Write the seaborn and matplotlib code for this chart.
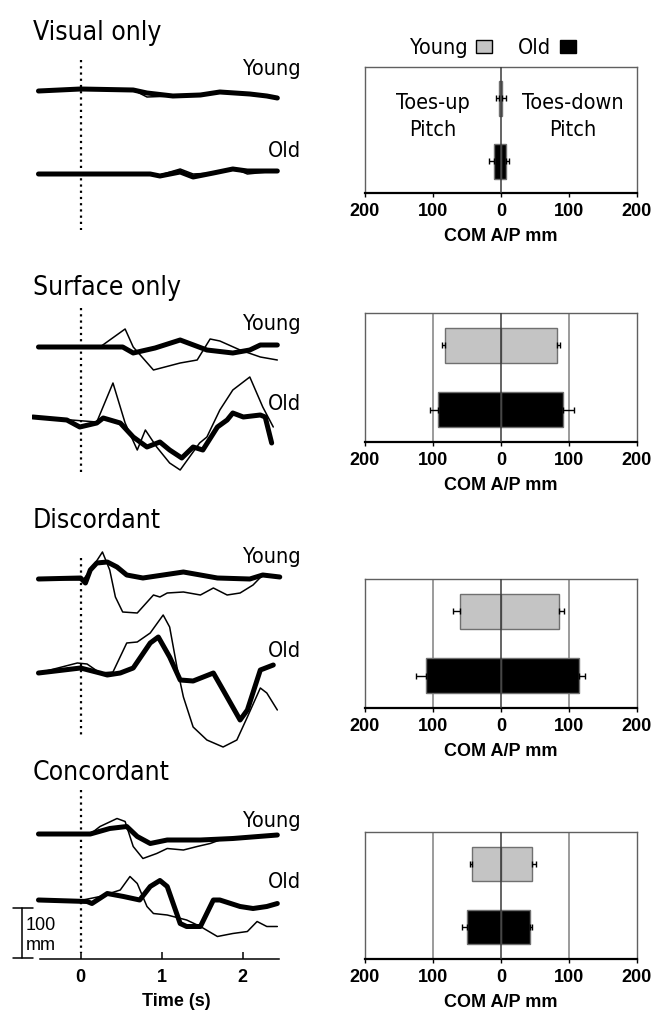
import numpy as np
import pandas as pd
import matplotlib
matplotlib.use("Agg")
import matplotlib.pyplot as plt
from matplotlib import font_manager
from matplotlib.font_manager import FontProperties
from matplotlib.patches import Patch
import seaborn as sns

# ---------------- data ----------------
conditions = ["Visual only", "Surface only", "Discordant", "Concordant"]
groups = ["Young", "Old"]

# peak COM A/P displacement (mm): toes-up (left) and toes-down (right)
young_up = [3, 82, 60, 42]
young_down = [2, 82, 86, 45]
young_up_se = [5, 5, 10, 4]
young_down_se = [6, 5, 7, 6]
old_up = [11, 92, 111, 50]
old_down = [8, 91, 114, 43]
old_up_se = [7, 12, 14, 7]
old_down_se = [4, 16, 10, 2]

bar_ticks = [-200, -100, 0, 100, 200]
bar_ticklabels = ["200", "100", "0", "100", "200"]
time_ticks = [0, 1, 2]

# COM traces (time s, displacement mm)
vis_young_thick_t = [-0.52, 0.0, 0.65, 0.82, 1.14, 1.48, 1.72, 2.09, 2.30, 2.43]
vis_young_thick_v = [0, 4, 2, -4, -10, -8, -2, -6, -10, -14]
vis_young_thin_t = [-0.52, 0.0, 0.65, 0.82, 1.14, 1.48, 1.72, 2.09, 2.30, 2.43]
vis_young_thin_v = [0, 4, 2, -12, -10, -8, -2, -6, -10, -14]
vis_old_thick_t = [-0.52, 0.0, 0.86, 0.98, 1.23, 1.39, 1.64, 1.88, 2.06, 2.43]
vis_old_thick_v = [0, 0, 0, -4, 4, -6, 2, 10, 6, 6]
vis_old_thin_t = [-0.52, 0.0, 0.86, 0.98, 1.23, 1.39, 1.64, 1.88, 2.06, 2.43]
vis_old_thin_v = [0, 0, 0, -2, 10, 0, 2, 12, 0, 6]

surf_young_thick_t = [-0.52, 0.52, 0.65, 0.92, 1.23, 1.56, 1.88, 2.09, 2.22, 2.43]
surf_young_thick_v = [0, 0, -12, -2, 14, -6, -12, -6, 4, 4]
surf_young_thin_t = [-0.52, 0.24, 0.55, 0.65, 0.90, 1.23, 1.44, 1.60, 1.72, 1.97, 2.22, 2.43]
surf_young_thin_v = [0, 0, 36, 0, -46, -32, -26, 16, 12, -6, -20, -26]
surf_old_thick_t = [-0.59, -0.17, -0.01, 0.20, 0.28, 0.49, 0.65, 0.82, 0.98, 1.10,
                    1.25, 1.39, 1.51, 1.69, 1.81, 1.88, 2.01, 2.22, 2.28, 2.36]
surf_old_thick_v = [6, 0, -14, -6, 4, -6, -34, -54, -44, -60,
                    -76, -54, -60, -14, 0, 14, 6, 10, 6, -46]
surf_old_thin_t = [-0.59, 0.20, 0.40, 0.55, 0.70, 0.80, 0.94, 1.10, 1.23, 1.47,
                   1.56, 1.72, 1.88, 2.09, 2.25, 2.38]
surf_old_thin_v = [6, -4, 74, -6, -60, -20, -54, -86, -100, -46,
                   -34, 20, 60, 86, 26, -14]

disc_young_thick_t = [-0.52, 0.0, 0.06, 0.12, 0.20, 0.33, 0.45, 0.57, 0.77, 1.27, 1.69, 2.09, 2.25, 2.46]
disc_young_thick_v = [0, 2, -8, 18, 32, 34, 24, 8, 2, 14, 2, 0, 8, 4]
disc_young_thin_t = [-0.52, 0.03, 0.15, 0.27, 0.36, 0.43, 0.52, 0.70, 0.90, 0.98,
                     1.07, 1.27, 1.48, 1.64, 1.81, 1.97, 2.13, 2.25, 2.30]
disc_young_thin_v = [0, -2, 24, 54, 18, -36, -66, -68, -32, -36,
                     -28, -26, -32, -18, -32, -28, -12, 8, 10]
disc_old_thick_t = [-0.52, 0.0, 0.24, 0.33, 0.49, 0.65, 0.86, 0.96, 1.10, 1.23,
                    1.39, 1.64, 1.76, 1.97, 2.06, 2.22, 2.38]
disc_old_thick_v = [0, 10, 0, -4, 0, 10, 60, 72, 32, -14,
                    -16, 0, -34, -94, -74, 6, 16]
disc_old_thin_t = [-0.52, -0.04, 0.08, 0.24, 0.40, 0.57, 0.70, 0.86, 1.02, 1.10,
                   1.19, 1.27, 1.39, 1.56, 1.76, 1.93, 2.06, 2.22, 2.30, 2.43]
disc_old_thin_v = [0, 20, 18, 0, 2, 60, 62, 80, 116, 92,
                   12, -48, -108, -134, -148, -134, -88, -30, -40, -74]

conc_young_thick_t = [-0.52, 0.12, 0.36, 0.57, 0.70, 0.86, 1.07, 1.48, 1.88, 2.43]
conc_young_thick_v = [0, 0, 11, 15, -5, -19, -12, -12, -9, -2]
conc_young_thin_t = [-0.52, 0.12, 0.24, 0.45, 0.55, 0.65, 0.77, 0.94, 1.07, 1.27,
                     1.44, 1.60, 1.72, 1.88, 2.43]
conc_young_thin_v = [0, 0, 15, 31, 25, -25, -49, -39, -29, -32,
                     -25, -19, -12, -9, -2]
conc_old_thick_t = [-0.52, 0.08, 0.14, 0.33, 0.53, 0.73, 0.86, 0.98, 1.07, 1.23,
                    1.31, 1.48, 1.64, 1.72, 1.97, 2.13, 2.30, 2.43]
conc_old_thick_v = [0, -3, -7, 13, 7, 0, 27, 39, 27, -47,
                    -53, -53, 0, 0, -13, -17, -13, -7]
conc_old_thin_t = [-0.52, 0.03, 0.24, 0.49, 0.61, 0.70, 0.82, 0.90, 1.07, 1.31,
                   1.48, 1.69, 1.88, 2.06, 2.18, 2.30, 2.43]
conc_old_thin_v = [0, 0, 7, 20, 47, 33, -13, -27, -30, -40,
                   -53, -73, -67, -63, -43, -53, -53]

traces = [
    [(vis_young_thin_t, vis_young_thin_v, vis_young_thick_t, vis_young_thick_v),
     (vis_old_thin_t, vis_old_thin_v, vis_old_thick_t, vis_old_thick_v)],
    [(surf_young_thin_t, surf_young_thin_v, surf_young_thick_t, surf_young_thick_v),
     (surf_old_thin_t, surf_old_thin_v, surf_old_thick_t, surf_old_thick_v)],
    [(disc_young_thin_t, disc_young_thin_v, disc_young_thick_t, disc_young_thick_v),
     (disc_old_thin_t, disc_old_thin_v, disc_old_thick_t, disc_old_thick_v)],
    [(conc_young_thin_t, conc_young_thin_v, conc_young_thick_t, conc_young_thick_v),
     (conc_old_thin_t, conc_old_thin_v, conc_old_thick_t, conc_old_thick_v)],
]

# ---------------- style ----------------
sns.set_theme(style="white")
plt.rcParams["font.family"] = ["Liberation Sans", "DejaVu Sans"]
plt.rcParams["text.color"] = "black"
plt.rcParams["axes.labelcolor"] = "black"
plt.rcParams["xtick.color"] = "black"
plt.rcParams["ytick.color"] = "black"


def find_narrow():
    best = None
    for f in font_manager.fontManager.ttflist:
        nm = f.name.lower()
        path = f.fname.lower()
        st = str(f.stretch).lower()
        is_narrow = ("narrow" in nm or "condensed" in nm or "narrow" in path
                     or "condensed" in path or st in ("condensed", "semi-condensed",
                                                      "extra-condensed", "ultra-condensed")
                     or (isinstance(f.stretch, (int, float)) and f.stretch < 500))
        if not is_narrow:
            continue
        if "bold" in path or "italic" in path or "oblique" in path or "light" in path \
                or "black" in path or "medium" in path or "thin" in path:
            continue
        if "mono" in nm or "serif" in nm and "sans" not in nm:
            continue
        if "liberation" in nm or "arial" in nm:
            score = 3
        elif "dejavu" in nm:
            score = 2
        else:
            score = 1
        if best is None or score > best[0]:
            best = (score, f.fname)
    return best[1] if best else None


narrow_path = find_narrow()
if narrow_path:
    def NP(size):
        return FontProperties(fname=narrow_path, size=size)
    title_size, label_size = 19, 15.5
else:
    def NP(size):
        return FontProperties(family="Liberation Sans", size=size)
    title_size, label_size = 17, 14.5

W, H = 669, 1015
fig = plt.figure(figsize=(W / 100, H / 100), dpi=100)
fig.patch.set_facecolor("white")


def fy(px):  # left-column pixel row -> data (mm, 2 mm per pixel)
    return -2.0 * px


def ft(px):  # left-column pixel column -> time (s)
    return (px - 80.5) / 81.0


# ---------------- left column: traces ----------------
axL = fig.add_axes([32 / W, 0, 251 / W, 1])
axL.set_xlim(-0.6, 2.5)
axL.set_ylim(-2030, 0)
axL.patch.set_alpha(0)

base_px = [(91, 174), (347, 420), (579, 673), (834, 900)]
title_px = [40, 295, 528, 780]
young_lbl_px = [75, 330, 563, 827]
old_lbl_px = [157, 410, 657, 888]
dot_px = [(60, 230), (308, 473), (558, 735), (790, 953)]

for i, cond in enumerate(conditions):
    for g in range(2):
        tt, tv, kt, kv = traces[i][g]
        off = fy(base_px[i][g])
        sns.lineplot(x=np.array(tt), y=np.array(tv) + off, ax=axL, color="black",
                     linewidth=1.1, estimator=None, sort=False)
        sns.lineplot(x=np.array(kt), y=np.array(kv) + off, ax=axL, color="black",
                     linewidth=3.6, estimator=None, sort=False,
                     solid_capstyle="round", solid_joinstyle="round")
    axL.plot([0, 0], [fy(dot_px[i][0]), fy(dot_px[i][1])], color="black",
             linewidth=1.6, linestyle=(0, (1, 1.8)))
    axL.text(ft(33), fy(title_px[i]), cond, ha="left", va="baseline",
             fontproperties=NP(title_size), color="black")
    axL.text(ft(301), fy(young_lbl_px[i]), "Young", ha="right", va="baseline",
             fontproperties=NP(label_size), color="black")
    axL.text(ft(301), fy(old_lbl_px[i]), "Old", ha="right", va="baseline",
             fontproperties=NP(label_size), color="black")

for s in ["top", "right", "left"]:
    axL.spines[s].set_visible(False)
axL.spines["bottom"].set_position(("data", fy(959)))
axL.spines["bottom"].set_bounds(-0.5, 2.45)
axL.spines["bottom"].set_color("black")
axL.spines["bottom"].set_linewidth(1.1)
axL.set_yticks([])
axL.set_xticks(time_ticks, [str(v) for v in time_ticks], fontsize=13, fontweight="bold")
axL.tick_params(axis="x", direction="in", length=5, width=1.1, color="black",
                labelcolor="black", pad=7, bottom=True)
axL.set_xlabel("")
axL.set_ylabel("")
axL.text(ft(176), fy(1002), "Time (s)", ha="center", va="center",
         fontsize=13, fontweight="bold", color="black")

# scale bar (100 mm)
xb = ft(22)
axL.plot([xb, xb], [fy(958), fy(958) + 100], color="black", linewidth=1.1, clip_on=False)
axL.plot([ft(13), ft(33)], [fy(958), fy(958)], color="black", linewidth=1.1, clip_on=False)
axL.plot([ft(13), ft(33)], [fy(958) + 100, fy(958) + 100], color="black", linewidth=1.1, clip_on=False)
axL.text(ft(26), fy(925), "100", ha="left", va="center", fontsize=13, color="black")
axL.text(ft(26), fy(946), "mm", ha="left", va="center", fontsize=13, color="black")

# ---------------- right column: bars ----------------
box_px = [(67, 193), (313, 442), (579, 708), (832, 959)]
palette = {"Young": "#c4c4c4", "Old": "#000000"}

for i, cond in enumerate(conditions):
    top, bot = box_px[i]
    ax = fig.add_axes([365 / W, 1 - bot / H, 272 / W, (bot - top) / H])
    df_up = pd.DataFrame({"group": groups, "value": [-young_up[i], -old_up[i]]})
    df_dn = pd.DataFrame({"group": groups, "value": [young_down[i], old_down[i]]})
    for df in (df_up, df_dn):
        sns.barplot(data=df, x="value", y="group", hue="group", palette=palette,
                    orient="h", width=0.54, legend=False, ax=ax,
                    edgecolor="#707070", linewidth=1.0, zorder=2)
    ax.errorbar([-young_up[i], -old_up[i]], [0, 1],
                xerr=[[young_up_se[i], old_up_se[i]], [0, 0]],
                fmt="none", ecolor="black", elinewidth=1.0, capsize=2.2, capthick=1.0, zorder=3)
    ax.errorbar([young_down[i], old_down[i]], [0, 1],
                xerr=[[0, 0], [young_down_se[i], old_down_se[i]]],
                fmt="none", ecolor="black", elinewidth=1.0, capsize=2.2, capthick=1.0, zorder=3)
    ax.axvline(0, color="#3a3a3a", linewidth=1.1, zorder=4)
    if i > 0:
        for xv in (-100, 100):
            ax.axvline(xv, color="#8a8a8a", linewidth=1.2, zorder=0)
    ax.set_xlim(-200, 200)
    ax.set_ylim(1.5, -0.5)
    for s in ax.spines.values():
        s.set_visible(True)
        s.set_color("#606060")
        s.set_linewidth(1.0)
    ax.spines["bottom"].set_color("black")
    ax.spines["bottom"].set_linewidth(1.6)
    ax.set_yticks([])
    ax.set_xticks(bar_ticks, bar_ticklabels, fontsize=13, fontweight="bold")
    ax.tick_params(axis="x", direction="out", length=3, width=1, color="black",
                   labelcolor="black", pad=4, bottom=True)
    ax.set_ylabel("")
    ax.set_xlabel("COM A/P mm", fontsize=13, fontweight="bold", labelpad=6, color="black")
    ax.grid(False)

    if i == 0:
        ax.text(-100, 0.28, "Toes-up\nPitch", ha="center", va="center",
                fontproperties=NP(label_size), linespacing=1.45, color="black")
        ax.text(105, 0.28, "Toes-down\nPitch", ha="center", va="center",
                fontproperties=NP(label_size), linespacing=1.45, color="black")
        handles = [Patch(facecolor=palette["Young"], edgecolor="black", linewidth=1.0),
                   Patch(facecolor=palette["Old"], edgecolor="black", linewidth=1.0)]
        leg = ax.legend(handles, groups, ncol=2, markerfirst=False, frameon=False,
                        loc="center", bbox_to_anchor=(0.47, 1 + 19 / 126),
                        prop=NP(label_size),
                        handlelength=0.75, handleheight=0.55, handletextpad=0.4,
                        columnspacing=1.2, borderaxespad=0, borderpad=0)
        for txt in leg.get_texts():
            txt.set_color("black")

fig.savefig("out.png", dpi=100, facecolor="white")
